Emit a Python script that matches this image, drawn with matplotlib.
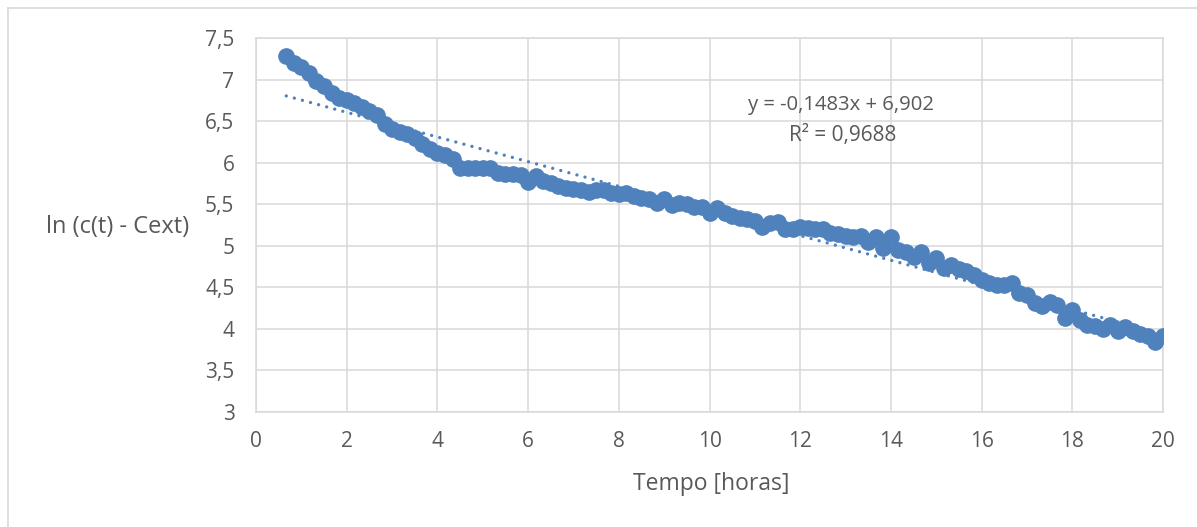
import matplotlib
matplotlib.use("Agg")
import matplotlib.pyplot as plt
from matplotlib.lines import Line2D
import numpy as np

# time in hours (10-minute steps)
tempo = [0.667 + k / 6 for k in range(117)]
ln_vals = [
    7.28, 7.20, 7.15, 7.08, 6.98, 6.92, 6.84, 6.78, 6.75, 6.72,
    6.67, 6.62, 6.57, 6.46, 6.40, 6.37, 6.34, 6.30, 6.23, 6.17,
    6.12, 6.09, 6.04, 5.94, 5.93, 5.93, 5.93, 5.93, 5.88, 5.86,
    5.86, 5.85, 5.77, 5.84, 5.78, 5.75, 5.72, 5.70, 5.68, 5.67,
    5.65, 5.67, 5.67, 5.64, 5.62, 5.63, 5.60, 5.57, 5.56, 5.51,
    5.56, 5.49, 5.51, 5.50, 5.47, 5.47, 5.39, 5.45, 5.40, 5.36,
    5.33, 5.32, 5.30, 5.23, 5.28, 5.29, 5.20, 5.20, 5.22, 5.21,
    5.20, 5.20, 5.15, 5.14, 5.12, 5.11, 5.12, 5.05, 5.10, 4.97,
    5.11, 4.95, 4.92, 4.86, 4.92, 4.79, 4.85, 4.73, 4.77, 4.72,
    4.70, 4.65, 4.59, 4.55, 4.53, 4.53, 4.55, 4.43, 4.41, 4.31,
    4.27, 4.32, 4.29, 4.13, 4.23, 4.11, 4.05, 4.04, 4.00, 4.05,
    3.97, 4.02, 3.97, 3.94, 3.91, 3.84, 3.91,
]
slope = -0.1483
intercept = 6.902
eq_text = "y = -0,1483x + 6,902"
r2_text = "R² = 0,9688"
xticks = list(range(0, 21, 2))
yticks = [3, 3.5, 4, 4.5, 5, 5.5, 6, 6.5, 7, 7.5]

plt.rcParams['font.family'] = ['Open Sans', 'DejaVu Sans']
blue = '#4F81BD'
grid_c = '#D9D9D9'
txt_c = '#595959'

fig = plt.figure(figsize=(11.97, 5.27), dpi=100)
ax = fig.add_axes([256/1197, 1 - 412/527, (1163-256)/1197, (412-38)/527])

ax.plot(tempo, ln_vals, 'o', ms=11, color=blue, mec=blue, zorder=3)
xs = np.array([min(tempo), max(tempo)])
ax.plot(xs, slope * xs + intercept, color=blue, lw=2.4,
        linestyle=(0, (0.01, 2.5)), dash_capstyle='round', zorder=4)

ax.set_xlim(0, 20)
ax.set_ylim(3, 7.5)
ax.set_xticks(xticks)
ax.set_yticks(yticks)
ax.set_xticklabels([str(t) for t in xticks])
ax.set_yticklabels([str(t).replace('.', ',') if t != int(t) else str(int(t)) for t in yticks])
ax.grid(True, color=grid_c, lw=1.1)
ax.set_axisbelow(True)
for s in ax.spines.values():
    s.set_color(grid_c)
    s.set_linewidth(1.1)
ax.tick_params(length=0, colors=txt_c, labelsize=15)
ax.tick_params(axis='y', pad=15.5)
ax.tick_params(axis='x', pad=14)

fig.text(841/1197, 1 - 105/527, eq_text, ha='center', va='center', fontsize=14.6, color=txt_c)
fig.text(843/1197, 1 - 136/527, r2_text, ha='center', va='center', fontsize=15, color=txt_c)

fig.text(118/1197, 1 - 227/527, "ln (c(t) - Cext)", ha='center', va='center', fontsize=17, color=txt_c)
fig.text(711/1197, 1 - 484/527, "Tempo [horas]", ha='center', va='center', fontsize=16.5, color=txt_c)

# outer chart border (left and top visible)
fig.add_artist(Line2D([8/1197, 8/1197], [0, 1 - 8/527], transform=fig.transFigure, color=grid_c, lw=1.2))
fig.add_artist(Line2D([8/1197, 1], [1 - 8/527, 1 - 8/527], transform=fig.transFigure, color=grid_c, lw=1.2))

fig.savefig("out.png", dpi=100)
